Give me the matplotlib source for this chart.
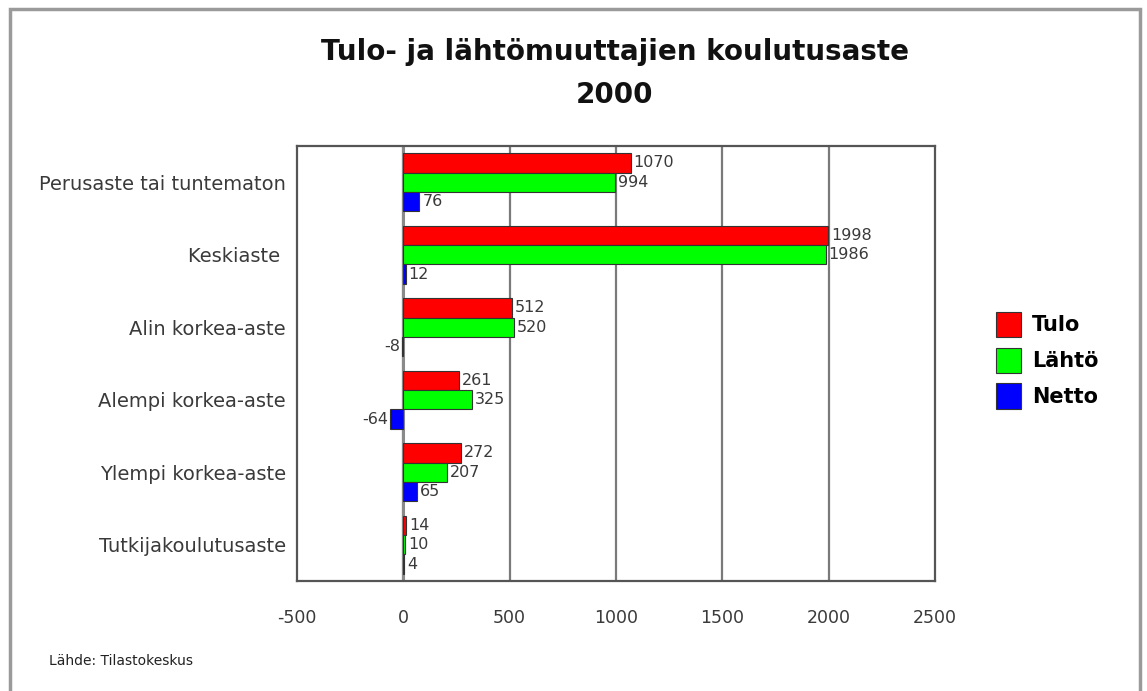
import matplotlib
matplotlib.use('Agg')
import matplotlib.pyplot as plt
from matplotlib.patches import Rectangle, Patch
import numpy as np

# --------------------------------------------------------------------------------------
# Data

categories = ['Perusaste tai tuntematon', 'Keskiaste ', 'Alin korkea-aste',
              'Alempi korkea-aste', 'Ylempi korkea-aste', 'Tutkijakoulutusaste']
tulo  = [1070, 1998, 512, 261, 272, 14]
lahto = [994, 1986, 520, 325, 207, 10]
netto = [76, 12, -8, -64, 65, 4]

series_names = ['Tulo', 'Lähtö', 'Netto']
xticks = [-500, 0, 500, 1000, 1500, 2000, 2500]

# --------------------------------------------------------------------------------------
# Chart

plt.rcParams['font.family'] = ['DejaVu Sans']

colors = ['#ff0000', '#00ff00', '#0000ff']
txtcol = '#3a3a3a'

fig = plt.figure(figsize=(11.47, 6.91), dpi=100)
ax = fig.add_axes([297/1147, 1 - 581/691, 638/1147, 435/691])

# outer frame
fig.patches.append(Rectangle((10/1147, -0.05), 1130/1147, 1.05 - 9/691,
                             transform=fig.transFigure, fill=False,
                             edgecolor='#9a9a9a', linewidth=2.5))

y = np.arange(len(categories))
h = 0.267
for i, vals in enumerate([tulo, lahto, netto]):
    pos = y + (i - 1) * h
    ax.barh(pos, vals, height=h, color=colors[i], edgecolor='#333333',
            linewidth=0.8, zorder=3)
    for p, v in zip(pos, vals):
        if v >= 0:
            ax.annotate(str(v), (v, p), xytext=(2, 0), textcoords='offset points',
                        ha='left', va='center', fontsize=11.5, color=txtcol)
        else:
            ax.annotate(str(v), (v, p), xytext=(-1, 0), textcoords='offset points',
                        ha='right', va='center', fontsize=11.5, color=txtcol)

ax.set_xlim(-500, 2500)
ax.set_ylim(len(categories) - 0.5, -0.5)
ax.set_xticks(xticks)
ax.set_xticklabels([str(t) for t in xticks])
ax.set_yticks(y)
ax.set_yticklabels(categories)
ax.tick_params(axis='both', length=0, colors=txtcol, labelsize=12.5)
ax.tick_params(axis='y', labelsize=14, pad=8)
ax.tick_params(axis='x', pad=20)

for t in xticks[1:-1]:
    ax.axvline(t, color='#7a7a7a', linewidth=1.6, zorder=1)
ax.axvline(0, color='#8a8a8a', linewidth=2.2, zorder=2)

for s in ax.spines.values():
    s.set_color('#555555')
    s.set_linewidth(1.6)

# title
fig.text(615/1147, 1 - 52/691, 'Tulo- ja lähtömuuttajien koulutusaste',
         ha='center', va='center', fontsize=20, fontweight='bold', color='#111111')
fig.text(615/1147, 1 - 95/691, '2000',
         ha='center', va='center', fontsize=20, fontweight='bold', color='#111111')

# legend
handles = [Patch(facecolor=c, edgecolor='#333333', linewidth=0.8) for c in colors]
fig.legend(handles, series_names, loc='upper left',
           bbox_to_anchor=(977/1147, 1 - 293/691), frameon=False,
           handlelength=1.2, handleheight=1.5, handletextpad=0.55,
           labelspacing=0.5, prop={'size': 15, 'weight': 'bold'})

# source
fig.text(49/1147, 1 - 661/691, 'Lähde: Tilastokeskus', ha='left', va='center',
         fontsize=10, color='#222222')

plt.savefig('out.png', dpi=100)
